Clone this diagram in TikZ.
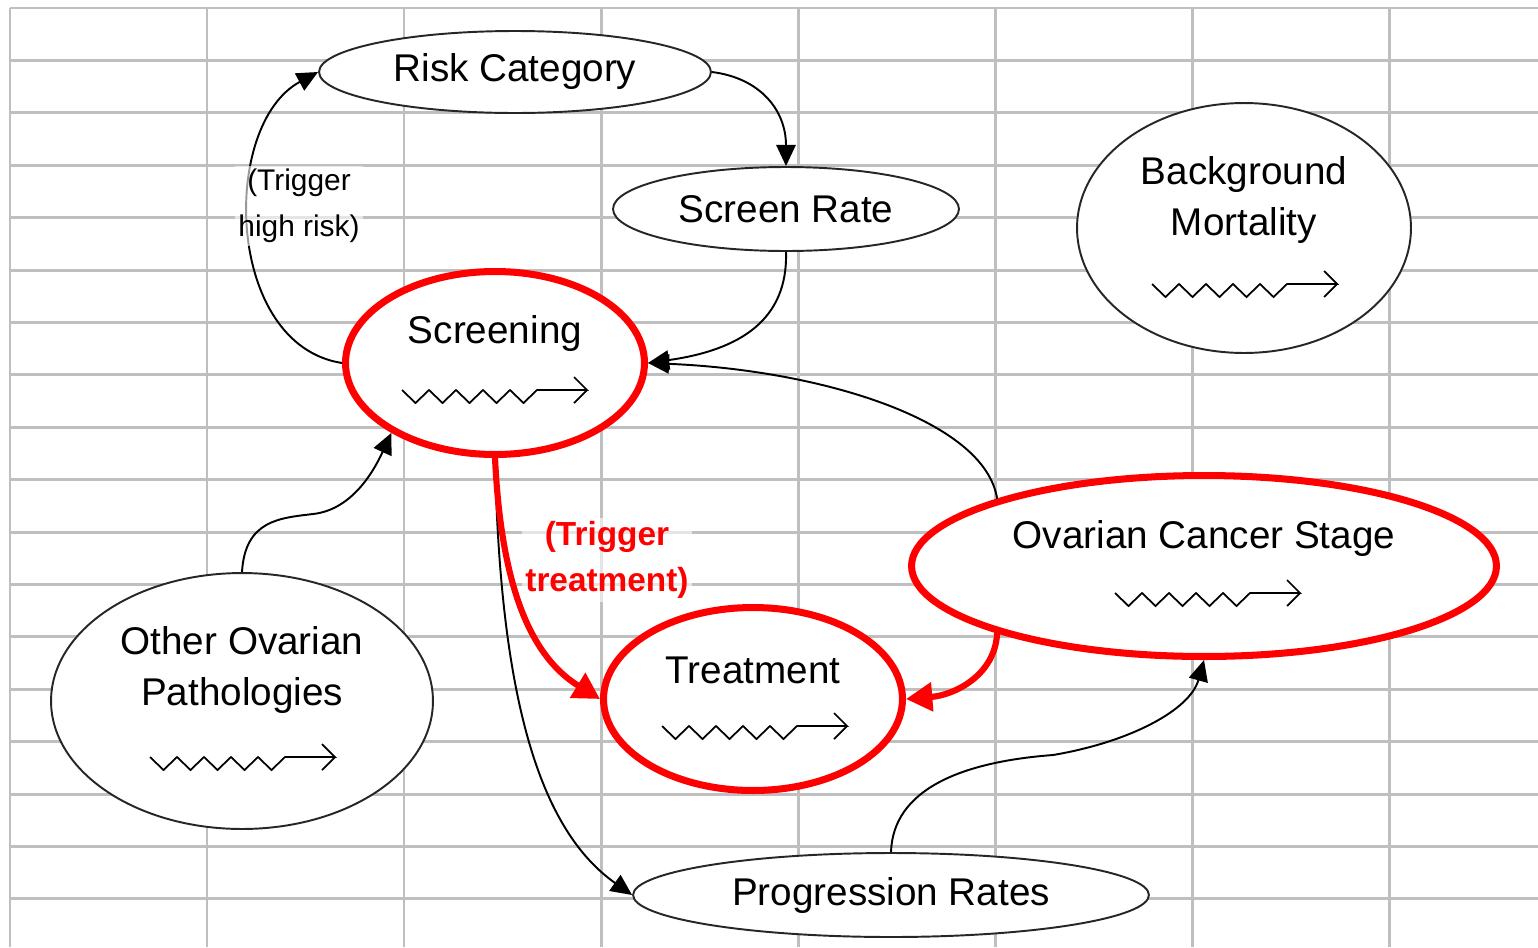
\documentclass[tikz,border=0pt]{standalone}
\usepackage{fontspec}
\setmainfont{Liberation Sans}
\usetikzlibrary{arrows.meta,shapes.geometric,calc}

\tikzset{
  gridln/.style={black!25,line width=1.7pt},
  ell/.style={ellipse,draw=black!85,line width=1.1pt,fill=white,inner sep=0pt,
    font=\fontsize{22}{29.5}\selectfont},
  redell/.style={ell,draw=red,line width=4pt},
  lbl/.style={align=center,font=\fontsize{22}{29.5}\selectfont},
  conn/.style={line width=1.1pt,-{Triangle[length=12pt,width=11pt]}},
  redconn/.style={red,line width=3.5pt,-{Triangle[length=15pt,width=16pt]}},
  note/.style={align=center,fill=white,fill opacity=0.6,text opacity=1,inner sep=2pt},
  wiggle/.pic={
    \draw[line width=1pt] (0,0)
      \foreach \k in {1,...,5}{ -- ++(13.5,13) -- ++(13.5,-13) }
      -- ++(50,0) -- ++(-13,-13) ++(13,13) -- ++(-13,13);
  }
}

\begin{document}
\begin{tikzpicture}[x=0.02cm,y=-0.02cm]
  \useasboundingbox (0,0) rectangle (1538,947);
  \fill[white] (0,0) rectangle (1538,947);

  % spreadsheet grid
  \foreach \gx in {10,207,404,601,798,995,1192,1389}
    \draw[gridln] (\gx,8) -- (\gx,947);
  \foreach \gi in {0,...,17}
    \draw[gridln] (10,{8+52.4*\gi}) -- (1538,{8+52.4*\gi});

  % model parts
  \node[ell,minimum width=7.84cm,minimum height=1.64cm] (risk) at (515,72) {Risk Category};
  \node[ell,minimum width=6.92cm,minimum height=1.68cm] (rate) at (786,209) {Screen Rate};
  \node[ell,minimum width=6.68cm,minimum height=5cm] (mort) at (1244,228) {};
  \node[redell,minimum width=5.98cm,minimum height=3.66cm] (scr) at (495,363) {};
  \node[redell,minimum width=11.7cm,minimum height=3.62cm] (ocs) at (1204,566) {};
  \node[redell,minimum width=5.98cm,minimum height=3.66cm] (trt) at (753,699) {};
  \node[ell,minimum width=7.64cm,minimum height=5.12cm] (oop) at (242,701) {};
  \node[ell,minimum width=10.32cm,minimum height=1.68cm] (prog) at (891,895) {Progression Rates};

  \node[lbl] (mort-t) at ($(mort)+(0,-28)$) {Background\\Mortality};
  \node[lbl,anchor=base] (scr-t) at ($(scr)+(0,-20)$) {Screening};
  \node[lbl,anchor=base] (ocs-t) at ($(ocs)+(0,-18)$) {Ovarian Cancer Stage};
  \node[lbl,anchor=base] (trt-t) at ($(trt)+(0,-16)$) {Treatment};
  \node[lbl] (oop-t) at ($(oop)+(0,-31)$) {Other Ovarian\\Pathologies};

  % time flow marks
  \pic at ($(mort)+(-92,56)$) {wiggle};
  \pic at ($(scr)+(-93,27)$) {wiggle};
  \pic at ($(ocs)+(-89,27)$) {wiggle};
  \pic at ($(trt)+(-91,27)$) {wiggle};
  \pic at ($(oop)+(-92,56)$) {wiggle};

  % links
  \draw[conn] (scr.west) .. controls (225,345) and (220,125) .. (risk.west);
  \draw[conn] (risk.east) .. controls (760,78) and (786,110) .. (rate.north);
  \draw[conn] (rate.south) .. controls (788,320) and (740,350) .. (scr.east);
  \draw[conn] (ocs.162) .. controls (985,420) and (820,370) .. (scr.east);
  \draw[conn] (oop.north) .. controls (245,520) and (280,518) .. (313,514)
    .. controls (350,510) and (372,475) .. (scr.214);
  \draw[conn] (scr.south) .. controls (500,700) and (540,830) .. (prog.west);
  \draw[conn] (prog.north) .. controls (893,790) and (960,762) .. (1053,755)
    .. controls (1130,742) and (1190,710) .. (ocs.south);
  \draw[redconn] (scr.south) .. controls (500,560) and (520,650) .. (trt.west);
  \draw[redconn] (ocs.198) .. controls (995,675) and (955,695) .. (trt.east);

  \node[note,font=\fontsize{17}{26}\selectfont] (hr) at (299,206) {(Trigger\\high risk)};
  \node[note,text=red,font=\fontsize{19}{26}\selectfont\bfseries] (tt) at (607,560) {(Trigger\\treatment)};
\end{tikzpicture}
\end{document}
